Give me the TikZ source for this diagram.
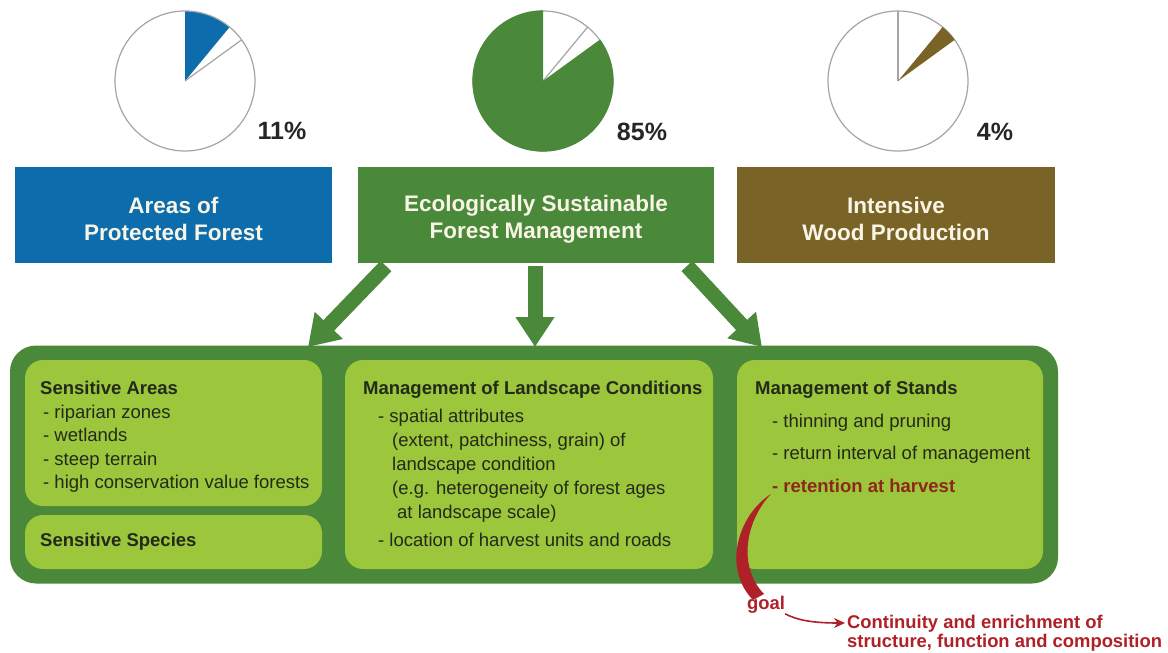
\documentclass[tikz,border=0pt]{standalone}
\usepackage{fontspec}
\setmainfont{Liberation Sans}
\usetikzlibrary{arrows.meta,calc}
\definecolor{pblue}{RGB}{12,108,172}
\definecolor{dgreen}{RGB}{74,137,58}
\definecolor{pbrown}{RGB}{122,99,38}
\definecolor{lime}{RGB}{156,198,60}
\definecolor{txt}{RGB}{35,42,25}
\definecolor{cream}{RGB}{248,244,230}
\definecolor{rred}{RGB}{176,32,40}
\definecolor{rdark}{RGB}{140,40,25}
\definecolor{pgray}{RGB}{165,165,165}
\begin{document}
\begin{tikzpicture}[x=1pt,y=-1pt,
  topbox/.style={minimum height=96pt, inner sep=0pt},
  toptext/.style={text=cream, font=\bfseries\fontsize{22.5}{27}\selectfont, align=center, inner sep=0pt},
  panel/.style={fill=lime, rounded corners=18pt, inner sep=0pt},
  body/.style={text=txt, font=\fontsize{18.5}{23.5}\selectfont, align=left, anchor=north west, inner sep=0pt},
  pct/.style={text=black!85, font=\bfseries\fontsize{25}{30}\selectfont, inner sep=0pt},
  pieline/.style={draw=pgray, line width=1.2pt},
  bigarrow/.style={draw=dgreen, line width=15pt, -{Triangle[width=37pt,length=30pt]}},
  redtext/.style={text=rred, font=\bfseries\fontsize{18.4}{18.5}\selectfont, inner sep=0pt},
  goalarrow/.style={draw=rred, line width=1.6pt, -{Stealth[length=11pt,width=10pt]}}
]
\useasboundingbox (0,0) rectangle (1168,653);
\fill[white] (0,0) rectangle (1168,653);

% pies
\coordinate (p1) at (185,81);
\coordinate (p2) at (543,81);
\coordinate (p3) at (898,81);
\fill[white] (p1) circle[radius=70];
\fill[pblue] (p1) -- ++(-90:70) arc[start angle=-90,end angle=-50.4,radius=70] -- cycle;
\draw[pieline] (p1) -- ++(-36:70);
\draw[pieline] (p1) circle[radius=70];

\draw[pieline] (p2) circle[radius=70];
\draw[pieline] (p2) -- ++(-50.4:70);
\fill[dgreen] (p2) -- ++(-90:70.6) arc[start angle=-90,end angle=-396,radius=70.6] -- cycle;

\draw[pieline] (p3) circle[radius=70];
\draw[pieline] (p3) -- ++(-90:70);
\fill[pbrown] (p3) -- ++(-50.4:70) arc[start angle=-50.4,end angle=-36,radius=70] -- cycle;

\node[pct] (pc1) at (282,131) {11\%};
\node[pct] (pc2) at (642,132) {85\%};
\node[pct] (pc3) at (995,132) {4\%};

% top boxes
\node[topbox, fill=pblue, minimum width=317pt] (apf) at (173.5,215) {};
\node[toptext] (apft) at ($(apf.center)+(0,4)$) {Areas of\\Protected Forest};
\node[topbox, fill=dgreen, minimum width=356pt] (esfm) at (536,215) {};
\node[toptext] (esfmt) at ($(esfm.center)+(0,4)$) {Ecologically Sustainable\\Forest Management};
\node[topbox, fill=pbrown, minimum width=318pt] (iwp) at (896,215) {};
\node[toptext] (iwpt) at ($(iwp.center)+(0,4)$) {Intensive\\Wood Production};

% outer and panels
\node[fill=dgreen, rounded corners=26pt, minimum width=1048pt, minimum height=238pt, inner sep=0pt] (outer) at (534,464.5) {};
\node[panel, minimum width=297pt, minimum height=146pt] (sa) at (173.5,433) {};
\node[panel, minimum width=297pt, minimum height=54pt] (ss) at (173.5,542) {};
\node[panel, minimum width=368pt, minimum height=209pt] (ml) at (529,464.5) {};
\node[panel, minimum width=306pt, minimum height=209pt] (ms) at (890,464.5) {};

% arrows
\coordinate (a1s) at (386,266);
\coordinate (a1e) at (308,347);
\coordinate (a2s) at (535,266);
\coordinate (a2e) at (535,347);
\coordinate (a3s) at (687,266);
\coordinate (a3e) at (762,347);
\draw[bigarrow] (a1s) -- (a1e);
\draw[bigarrow] (a2s) -- (a2e);
\draw[bigarrow] (a3s) -- (a3e);

% texts
\node[body] (sat) at (40,381) {\textbf{Sensitive Areas}\\
\hspace*{3pt}- riparian zones\\
\hspace*{3pt}- wetlands\\
\hspace*{3pt}- steep terrain\\
\hspace*{3pt}- high conservation value forests};
\node[body, anchor=west] (sst) at (40,542) {\textbf{Sensitive Species}};
\node[body, font=\fontsize{18.5}{24}\selectfont] (mlt) at (363,381) {\textbf{Management of Landscape Conditions}\\[4pt]
\hspace*{15pt}- spatial attributes\\
\hspace*{29pt}(extent, patchiness, grain) of\\
\hspace*{29pt}landscape condition\\
\hspace*{29pt}(e.g. heterogeneity of forest ages\\
\hspace*{34pt}at landscape scale)\\[4pt]
\hspace*{15pt}- location of harvest units and roads};
\node[body, font=\fontsize{18.5}{32.5}\selectfont] (mst) at (755,381) {\textbf{Management of Stands}\\
\hspace*{17pt}- thinning and pruning\\
\hspace*{17pt}- return interval of management\\
\hspace*{17pt}{\color{rdark}\bfseries - retention at harvest}};

% goal
\coordinate (rs) at (771,494);
\coordinate (re) at (758,598);
\fill[rred] (rs) .. controls (738,515) and (722,568) .. (753,600) -- (764,594) .. controls (737,566) and (746,520) .. (rs) -- cycle;
\node[redtext] (goal) at (766,605) {goal};
\node[redtext, align=left, anchor=north west] (cont) at (847,615) {Continuity and enrichment of\\structure, function and composition};
\coordinate (ctip) at (845,623);
\draw[goalarrow] (goal.south east) .. controls (797,620) and (812,623) .. (ctip);
\end{tikzpicture}
\end{document}
